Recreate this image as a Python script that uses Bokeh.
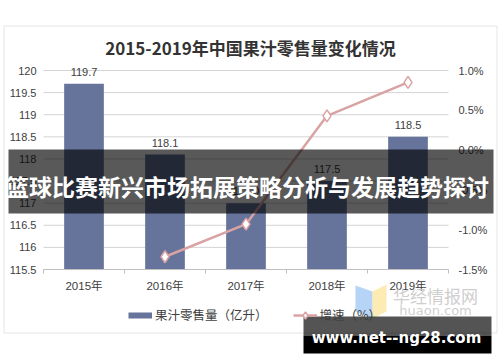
from bokeh.plotting import figure
from bokeh.models import (Range1d, LinearAxis, FixedTicker, PrintfTickFormatter,
                          ColumnDataSource, LabelSet, Label, BoxAnnotation,
                          PolyAnnotation, Legend, LegendItem)
from bokeh.core.properties import value
from bokeh.embed import file_html
from bokeh.resources import INLINE

# ---------------- data ----------------
years = ["2015年", "2016年", "2017年", "2018年", "2019年"]
volume = [119.7, 118.1, 117.0, 117.5, 118.5]          # 果汁零售量（亿升）
growth_years = ["2016年", "2017年", "2018年", "2019年"]
growth = [-1.34, -0.93, 0.43, 0.85]                    # 增速（%）
left_ticks = [115.5, 116.0, 116.5, 117.0, 117.5, 118.0, 118.5, 119.0, 119.5, 120.0]
right_ticks = [-1.5, -1.0, -0.5, 0.0, 0.5, 1.0]

title_text = "2015-2019年中国果汁零售量变化情况"
bar_label = "果汁零售量（亿升）"
line_label = "增速（%）"
banner_text = "篮球比赛新兴市场拓展策略分析与发展趋势探讨"
site_text = "www.net--ng28.com"

BAR = "#66739b"
LINE = "#d9a3a3"
TXT = "#404040"
NUM_FONT = "Liberation Sans, Noto Sans CJK SC"
SANS = "Liberation Sans"
CJK = "Noto Sans CJK SC"

# ---------------- layout (pixels) ----------------
W, H = 500, 362
PX0, PX1 = 43, 448      # plot area left/right
PY0, PY1 = 70, 269      # plot area top/bottom

def sx(px):
    return px
def sy(py):
    return H - py

n = len(years)
ppx = (PX1 - PX0) / n
ylo, yhi = left_ticks[0], left_ticks[-1]
ppy = (PY1 - PY0) / (yhi - ylo)
rlo, rhi = right_ticks[0], right_ticks[-1]
ppr = (PY1 - PY0) / (rhi - rlo)

p = figure(width=W, height=H, output_backend="svg", toolbar_location=None,
           x_range=Range1d(-PX0 / ppx, n + (W - PX1) / ppx),
           y_range=Range1d(ylo - (H - PY1) / ppy, yhi + PY0 / ppy),
           min_border=0, min_border_left=0, min_border_right=0,
           min_border_top=0, min_border_bottom=0,
           x_axis_location=None, y_axis_location=None)
p.outline_line_color = None
p.background_fill_color = "white"
p.border_fill_color = "white"
p.xgrid.visible = False
p.ygrid.visible = False
p.extra_y_ranges = {"pct": Range1d(rlo - (H - PY1) / ppr, rhi + PY0 / ppr)}

xs = [i + 0.5 for i in range(n)]
gx = [years.index(y) + 0.5 for y in growth_years]

# grid lines (limited to plot area)
p.segment(x0=[0] * len(left_ticks), x1=[n] * len(left_ticks), y0=left_ticks, y1=left_ticks,
          line_color="#d4d4d4", line_width=1)

# left axis
lax = LinearAxis(fixed_location=0, bounds=(ylo, yhi), ticker=FixedTicker(ticks=left_ticks),
                 formatter=PrintfTickFormatter(format="%g"))
lax.axis_line_color = None
lax.major_tick_line_color = None
lax.minor_tick_line_color = None
lax.major_tick_out = 0
lax.major_tick_in = 0
lax.major_label_standoff = 7
lax.major_label_text_font = SANS
lax.major_label_text_font_size = "11px"
lax.major_label_text_color = TXT
p.add_layout(lax, "left")

# right axis
rax = LinearAxis(y_range_name="pct", fixed_location=n, bounds=(rlo, rhi),
                 ticker=FixedTicker(ticks=right_ticks),
                 formatter=PrintfTickFormatter(format="%.1f%%"))
rax.axis_line_color = None
rax.major_tick_line_color = None
rax.minor_tick_line_color = None
rax.major_tick_out = 0
rax.major_tick_in = 0
rax.major_label_standoff = 10
rax.major_label_text_font = SANS
rax.major_label_text_font_size = "11px"
rax.major_label_text_color = TXT
p.add_layout(rax, "right")

# bars
src = ColumnDataSource(dict(x=xs, top=volume, label=[f"{v:.1f}" for v in volume]))
bars = p.vbar(x="x", top="top", bottom=ylo, width=0.49, source=src,
              fill_color=BAR, line_color=None)
p.add_layout(LabelSet(x="x", y="top", text="label", source=src, y_offset=12,
                      text_align="center", text_baseline="middle",
                      text_font=value(SANS), text_font_size="11px", text_color=TXT))

# bottom axis
bax = LinearAxis(fixed_location=ylo, bounds=(0, n),
                 ticker=FixedTicker(ticks=xs, minor_ticks=list(range(n + 1))))
bax.major_label_overrides = {x: y for x, y in zip(xs, years)}
bax.axis_line_color = "#bfbfbf"
bax.major_tick_line_color = None
bax.major_tick_out = 0
bax.major_tick_in = 0
bax.minor_tick_line_color = "#bfbfbf"
bax.minor_tick_out = 4
bax.minor_tick_in = 0
bax.major_label_standoff = 6
bax.major_label_text_font = NUM_FONT
bax.major_label_text_font_size = "11.5px"
bax.major_label_text_color = TXT
p.add_layout(bax, "below")

# growth line
lr = p.line(x=gx, y=growth, y_range_name="pct", line_color=LINE, line_width=2.5)
sr = p.scatter(x=gx, y=growth, y_range_name="pct", marker="diamond", size=12,
               fill_color="white", line_color=LINE, line_width=1.5)

# legend (bar shown as a thick short line, like the reference key)
proxy = p.line(x=[float("nan")], y=[float("nan")], line_color=BAR, line_width=6)
legend = Legend(items=[LegendItem(label=bar_label, renderers=[proxy]),
                       LegendItem(label=line_label, renderers=[lr, sr])],
                location=(sx(128), sy(324)), orientation="horizontal",
                border_line_color=None, background_fill_alpha=0, padding=0, margin=0,
                spacing=25, glyph_width=24, glyph_height=18, label_height=18,
                label_standoff=3, label_text_font=CJK, label_text_font_size="12.5px",
                label_text_color=TXT)
p.add_layout(legend)

# title
p.add_layout(Label(x=sx(250), y=sy(47), x_units="screen", y_units="screen", text=title_text,
                   text_align="center", text_baseline="middle", text_font=CJK,
                   text_font_size="17px", text_font_style="bold", text_color="#333333"))

# outer chart border
p.add_layout(BoxAnnotation(left=sx(3.5), right=sx(496.5), top=sy(25.5), bottom=sy(332.5),
                           left_units="screen", right_units="screen",
                           top_units="screen", bottom_units="screen",
                           fill_alpha=0, line_color="#a6a6a6", line_width=1))

# watermark logo / text
p.add_layout(PolyAnnotation(xs=[sx(355), sx(372), sx(372), sx(355)],
                            ys=[sy(285), sy(291), sy(318), sy(311)],
                            xs_units="screen", ys_units="screen",
                            fill_color="#a9cdf5", fill_alpha=0.85, line_color=None, level="overlay"))
p.add_layout(PolyAnnotation(xs=[sx(372), sx(386), sx(386), sx(372)],
                            ys=[sy(291), sy(284), sy(311), sy(318)],
                            xs_units="screen", ys_units="screen",
                            fill_color="#fbe9a6", fill_alpha=0.85, line_color=None, level="overlay"))
p.add_layout(Label(x=sx(435), y=sy(295), x_units="screen", y_units="screen", text="华经情报网",
                   text_align="center", text_baseline="middle", text_font=CJK,
                   text_font_size="17px", text_color="#c8c8c8", text_alpha=0.9, level="overlay"))
p.add_layout(Label(x=sx(435), y=sy(310), x_units="screen", y_units="screen", text="huaon.com",
                   text_align="center", text_baseline="middle", text_font="DejaVu Sans",
                   text_font_size="13px", text_color="#d0d0d0", level="overlay"))

# banner overlay
p.add_layout(BoxAnnotation(left=sx(8), right=sx(493), top=sy(149), bottom=sy(213),
                           left_units="screen", right_units="screen",
                           top_units="screen", bottom_units="screen",
                           fill_color="black", fill_alpha=0.65, line_color=None, level="overlay"))
p.add_layout(Label(x=sx(247), y=sy(185), x_units="screen", y_units="screen", text=banner_text,
                   text_align="center", text_baseline="middle", text_font=CJK,
                   text_font_size="23px", text_font_style="bold", text_color="white",
                   level="overlay"))

# site watermark box
p.add_layout(BoxAnnotation(left=sx(303), right=sx(491), top=sy(316), bottom=sy(335),
                           left_units="screen", right_units="screen",
                           top_units="screen", bottom_units="screen",
                           fill_color="black", fill_alpha=0.67, line_color=None, level="overlay"))
p.add_layout(BoxAnnotation(left=sx(303), right=sx(491), top=sy(335), bottom=sy(353),
                           left_units="screen", right_units="screen",
                           top_units="screen", bottom_units="screen",
                           fill_color="black", fill_alpha=1.0, line_color=None, level="overlay"))
p.add_layout(Label(x=sx(396), y=sy(337), x_units="screen", y_units="screen", text=site_text,
                   text_align="center", text_baseline="middle", text_font="DejaVu Sans",
                   text_font_size="15px", text_font_style="bold", text_color="white",
                   level="overlay"))

open("out.html", "w").write(file_html(p, INLINE))
